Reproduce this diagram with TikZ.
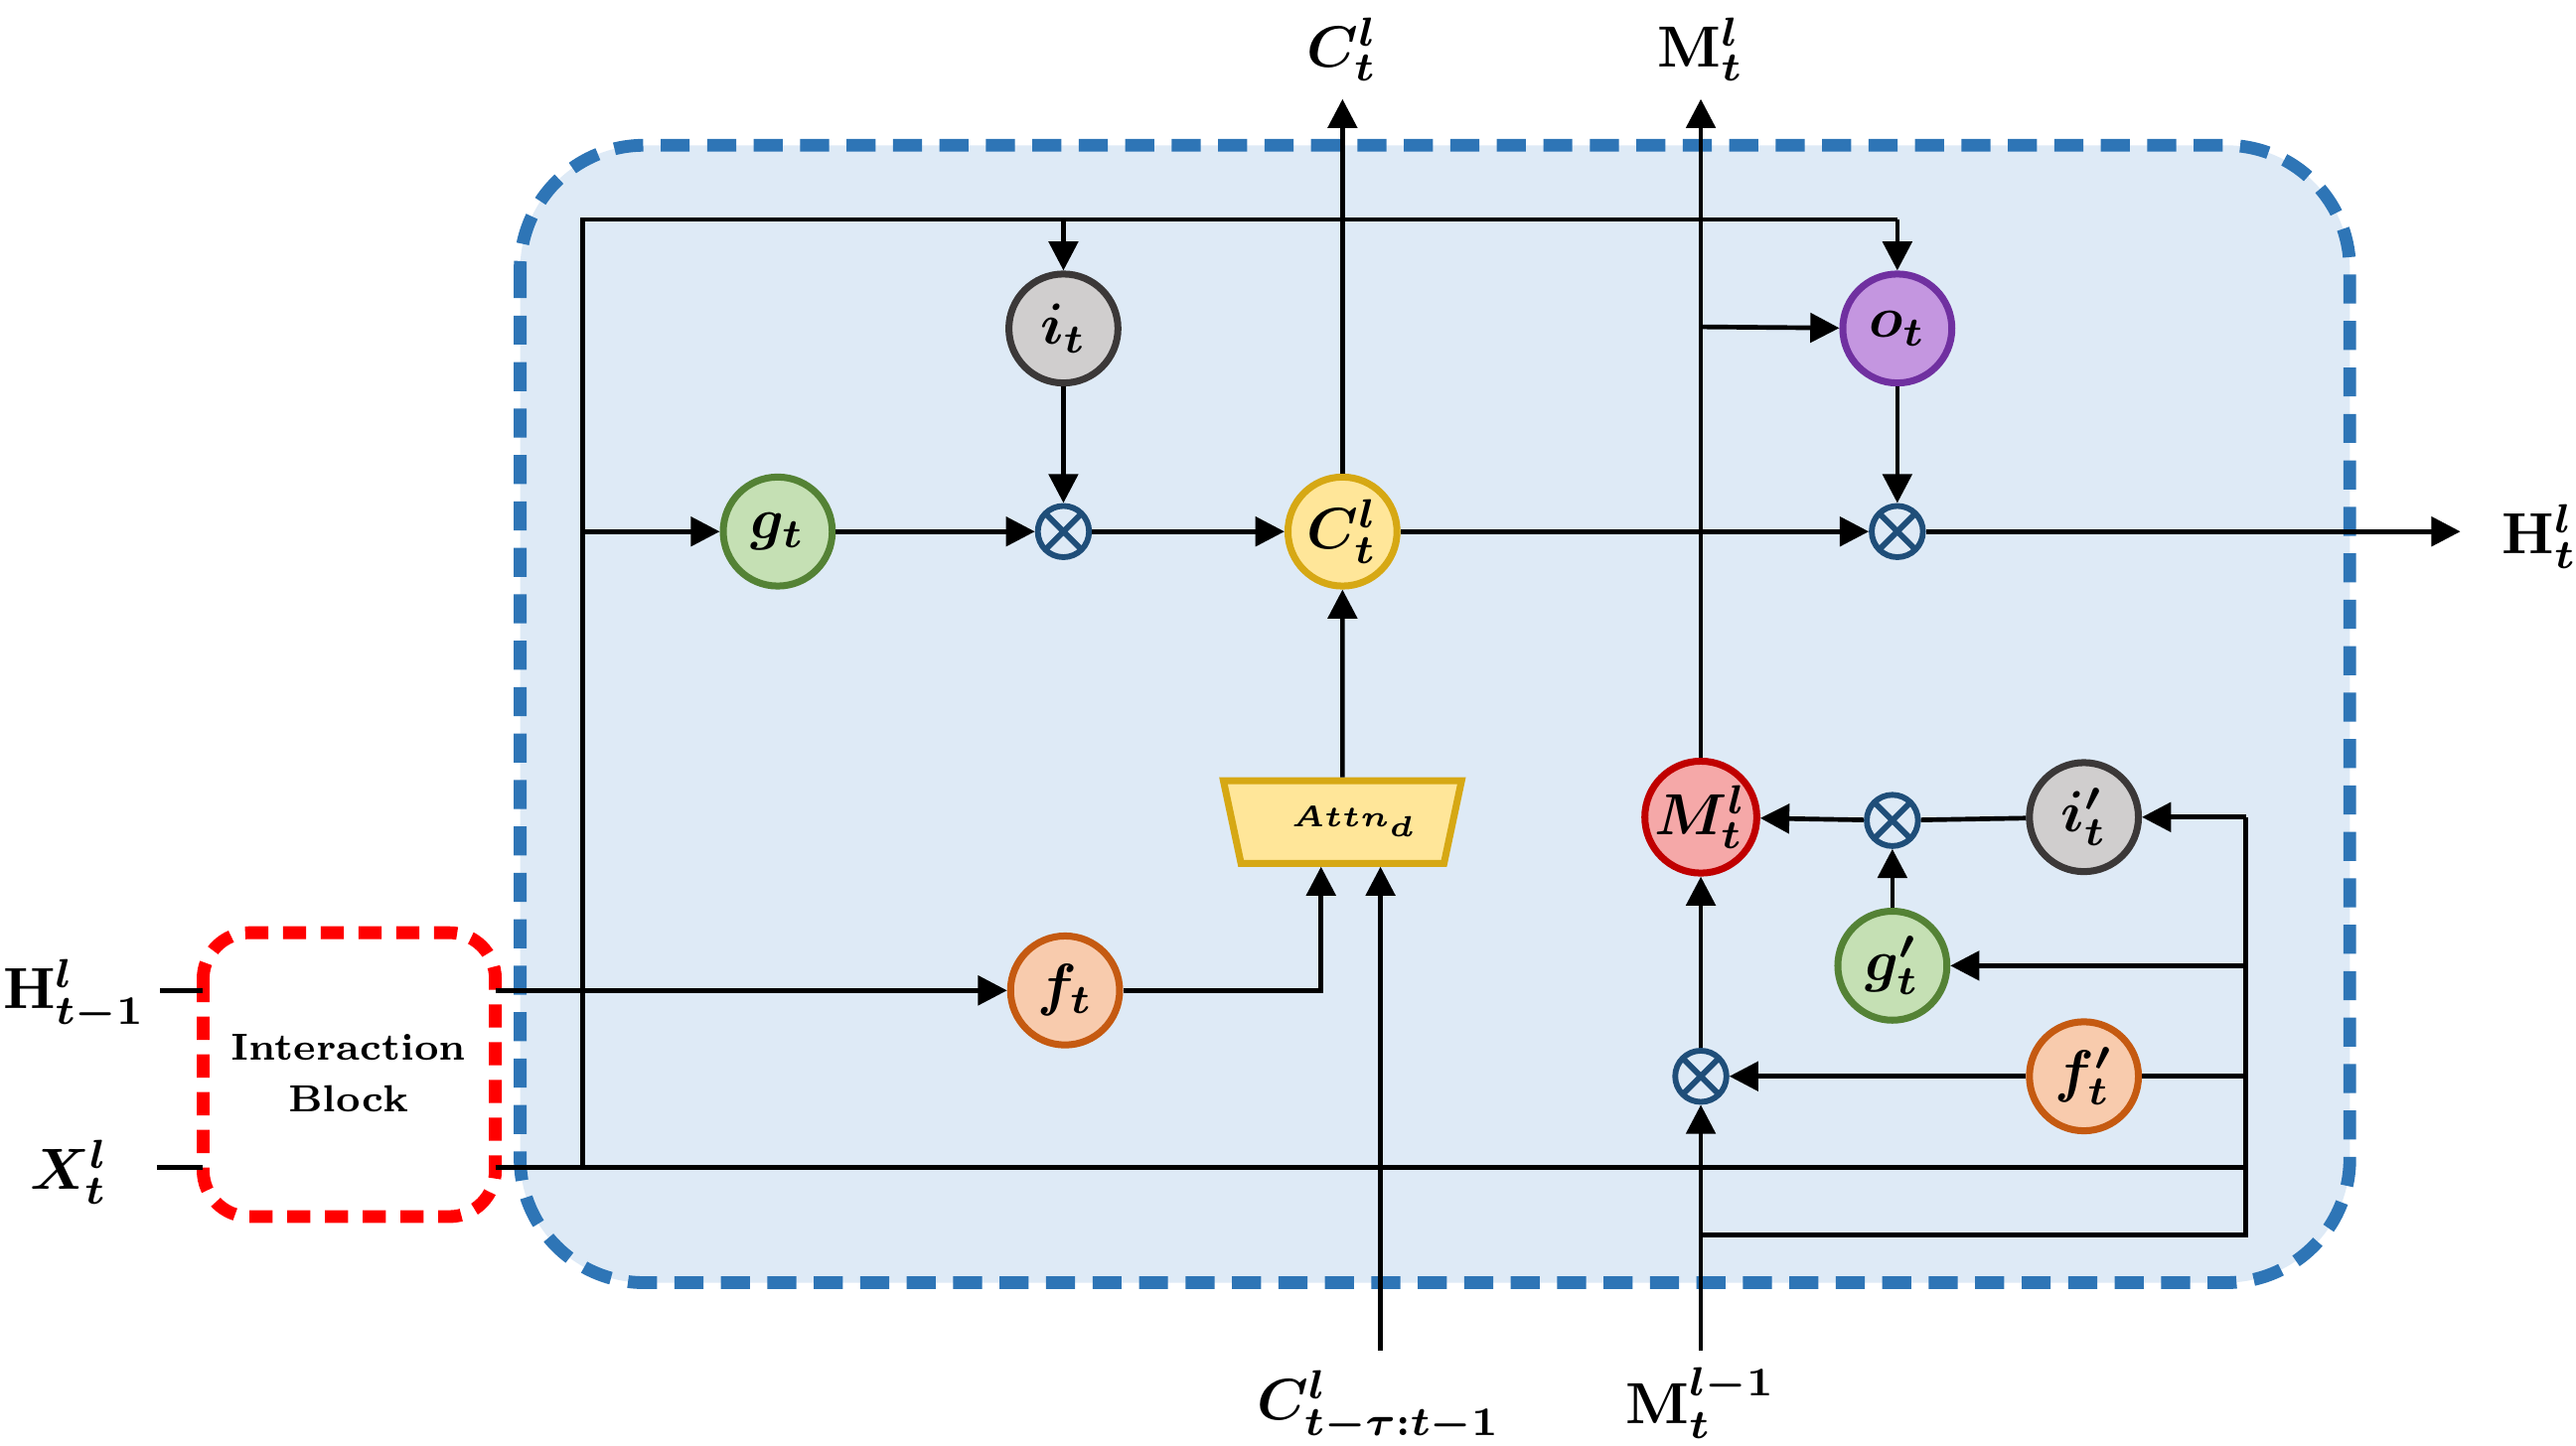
\documentclass[tikz,border=0pt]{standalone}
\usepackage{bm}
\usetikzlibrary{arrows.meta,shapes.geometric}
\definecolor{boxfill}{RGB}{222,234,246}
\definecolor{boxline}{RGB}{46,117,182}
\definecolor{otl}{RGB}{31,78,121}
\definecolor{gl}{RGB}{84,130,53}\definecolor{gf}{RGB}{197,224,180}
\definecolor{il}{RGB}{59,56,56}\definecolor{if}{RGB}{208,206,206}
\definecolor{cl}{RGB}{214,168,20}\definecolor{cf}{RGB}{255,230,153}
\definecolor{ol}{RGB}{112,48,160}\definecolor{of}{RGB}{196,150,224}
\definecolor{fl}{RGB}{197,90,17}\definecolor{ff}{RGB}{248,203,173}
\definecolor{ml}{RGB}{192,0,0}\definecolor{mf}{RGB}{245,168,168}
\begin{document}
\begin{tikzpicture}[x=0.01cm,y=-0.01cm,
  line width=0.8pt,
  arr/.style={-{Triangle[length=5pt,width=5pt]}},
  gate/.style={circle,minimum size=0.66cm,inner sep=0pt,line width=1.2pt,font=\fontsize{10}{12}\selectfont},
  ot/.style={circle,minimum size=0.31cm,inner sep=0pt,draw=otl,fill=boxfill,line width=1pt,
    path picture={\draw[otl,line width=1pt] (path picture bounding box.north west)--(path picture bounding box.south east) (path picture bounding box.north east)--(path picture bounding box.south west);}},
  lab/.style={font=\fontsize{10}{12}\selectfont}]
\useasboundingbox (0,0) rectangle (1560,875.4);
\draw[boxline,fill=boxfill,line width=2.2pt,dash pattern=on 5pt off 3pt,rounded corners=0.75cm] (315,88) rectangle (1423,777);
\draw[red,line width=2.2pt,dash pattern=on 4pt off 2.5pt,rounded corners=0.28cm] (123,565) rectangle (300,737);
\node[font=\bfseries\fontsize{6.5}{9}\selectfont,align=center] (ib) at (211,650) {Interaction\\Block};
% nodes
\node[gate,draw=gl,fill=gf] (g) at (471,322) {$\bm{g_t}$};
\node[gate,draw=il,fill=if] (i) at (644,199) {$\bm{i_t}$};
\node[ot] (x1) at (644,322) {};
\node[gate,draw=cl,fill=cf] (C) at (813,322) {$\bm{C_t^l}$};
\node[gate,draw=ol,fill=of] (o) at (1149,199) {$\bm{o_t}$};
\node[ot] (x2) at (1149,322) {};
\node[gate,draw=fl,fill=ff] (f) at (645,600) {$\bm{f_t}$};
\node[trapezium,trapezium angle=78,draw=cl,fill=cf,line width=1.2pt,text width=0.62cm,align=center,minimum height=0.5cm,inner xsep=0pt,inner ysep=1pt,shape border rotate=180,font=\fontsize{5.5}{6}\selectfont] (at) at (813,498) {$\bm{Attn_d}$};
\node[gate,draw=ml,fill=mf] (M) at (1030,495) {$\bm{M_t^l}$};
\node[ot] (x3) at (1146,497) {};
\node[gate,draw=il,fill=if] (ip) at (1262,495) {$\bm{i'_t}$};
\node[gate,draw=gl,fill=gf] (gp) at (1146,585) {$\bm{g'_t}$};
\node[gate,draw=fl,fill=ff] (fp) at (1262,652) {$\bm{f'_t}$};
\node[ot] (x4) at (1030,652) {};
% labels
\node[lab] (Hin) at (45,603) {$\mathbf{H}^{\bm l}_{\bm{t-1}}$};
\node[lab] (Xin) at (42,710) {$\bm{X_t^l}$};
\node[lab] (Cout) at (813,30) {$\bm{C_t^l}$};
\node[lab] (Mout) at (1030,30) {$\mathbf{M}_{\bm t}^{\bm l}$};
\node[lab] (Hout) at (1538,325) {$\mathbf{H}_{\bm t}^{\bm l}$};
\node[lab] (Cin) at (835,852) {$\bm{C^l_{t-\tau:t-1}}$};
\node[lab] (Min) at (1030,850) {$\mathbf{M}_{\bm t}^{\bm{l-1}}$};
\coordinate (ibR1) at (300,600);
\coordinate (ibR2) at (300,707);
\coordinate (Rt) at (1360,495);
\coordinate (Rb) at (1360,748);
\coordinate (Hend) at (1490,322);
% connectors
\draw (97,600) -- (123,600);
\draw (95,707) -- (123,707);
\draw[arr] (ibR1) -- (f);
\draw (ibR2) -- (1360,707);
\draw (353,707) -- (353,133) -- (1149,133);
\draw[arr] (644,133) -- (i);
\draw[arr] (1149,133) -- (o);
\draw[arr] (353,322) -- (g);
\draw[arr] (g) -- (x1);
\draw[arr] (i) -- (x1);
\draw[arr] (x1) -- (C);
\draw[arr] (C) -- (x2);
\draw[arr] (o) -- (x2);
\draw[arr] (x2) -- (Hend);
\draw[arr] (C) -- (813,60);
\draw[arr] (at) -- (C);
\draw[arr] (f) -| (800,525);
\draw[arr] (836,818) -- (836,525);
\draw[arr] (M) -- (1030,60);
\draw[arr] (1030,198) -- (o);
\draw[arr] (x3) -- (M);
\draw (ip) -- (x3);
\draw[arr] (gp) -- (x3);
\draw[arr] (Rt) -- (ip);
\draw (Rt) -- (Rb) -- (1030,748);
\draw[arr] (1360,585) -- (gp);
\draw (1360,652) -- (fp);
\draw[arr] (fp) -- (x4);
\draw[arr] (x4) -- (M);
\draw[arr] (1030,818) -- (x4);
\end{tikzpicture}
\end{document}
